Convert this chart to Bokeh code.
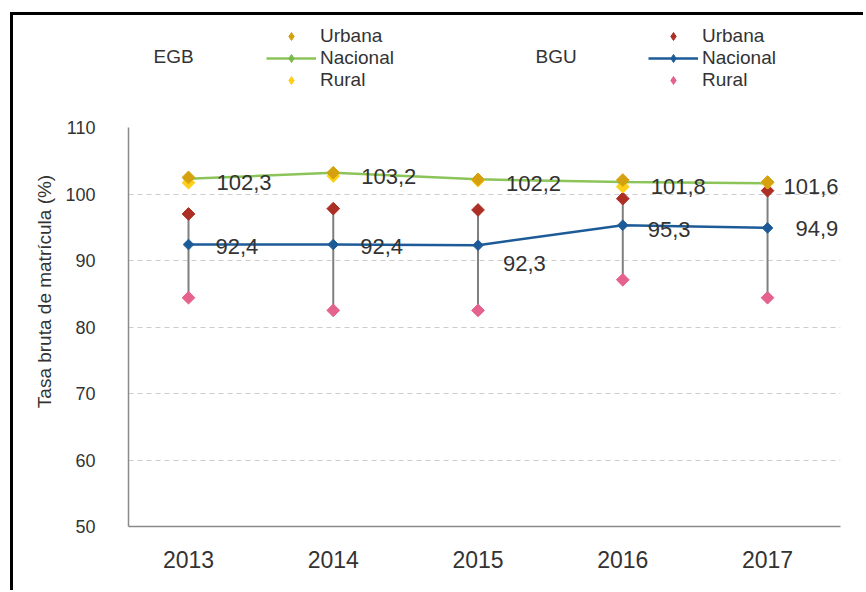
import math
from bokeh.plotting import figure
from bokeh.models import (ColumnDataSource, Range1d, FixedTicker, Legend, LegendItem,
                          Label, LabelSet)
from bokeh.layouts import column, row
from bokeh.core.properties import value
from bokeh.embed import file_html
from bokeh.resources import INLINE

# ---------------- data ----------------
years = [2013, 2014, 2015, 2016, 2017]
egb_nacional = [102.3, 103.2, 102.2, 101.8, 101.6]
egb_urbana = [102.5, 103.2, 102.2, 102.1, 101.8]
egb_rural = [101.7, 102.7, 102.0, 101.1, 101.7]
bgu_nacional = [92.4, 92.4, 92.3, 95.3, 94.9]
bgu_urbana = [97.0, 97.8, 97.6, 99.3, 100.5]
bgu_rural = [84.4, 82.5, 82.5, 87.1, 84.4]
y_ticks = [50, 60, 70, 80, 90, 100, 110]
y_title = "Tasa bruta de matrícula (%)"
group_names = ["EGB", "BGU"]
item_names = ["Urbana", "Nacional", "Rural"]

# label offsets (style)
egb_dx = [28, 28, 28, 28, 16]
egb_dy = [-4, -4, -4, -4, -3]
bgu_dx = [27, 27, 25, 25, 28]
bgu_dy = [-2, -2, -18, -4, -1]

FONT = "Liberation Sans"
TXT = "#333333"
C_GREEN = "#8cc45a"
C_GREEN_M = "#79b84a"
C_GOLD = "#d6a10f"
C_YELLOW = "#fdd017"
C_BLUE = "#1d5b98"
C_RED = "#ad2e25"
C_PINK = "#e4628c"
C_HL = "#7f7f7f"

DIAMOND = dict(marker="square", angle=math.pi / 4)

def fmt(v):
    return f"{v:.1f}".replace(".", ",")

def blank_fig(w, h):
    f = figure(width=w, height=h, x_range=Range1d(0, 1), y_range=Range1d(0, 1),
               output_backend="svg", toolbar_location=None,
               x_axis_location=None, y_axis_location=None,
               min_border_left=0, min_border_right=0,
               min_border_top=0, min_border_bottom=0)
    f.xgrid.grid_line_color = None
    f.ygrid.grid_line_color = None
    f.outline_line_color = None
    f.border_fill_color = "white"
    return f

# ---------------- main chart ----------------
p = figure(width=802, height=478,
           x_range=Range1d(2012.5855, 2017.504), y_range=Range1d(50, 110),
           output_backend="svg", toolbar_location=None,
           min_border_left=67, min_border_right=23,
           min_border_top=15, min_border_bottom=64)
p.outline_line_color = None
p.background_fill_color = "white"
p.border_fill_color = "white"

p.xaxis.ticker = FixedTicker(ticks=years)
p.yaxis.ticker = FixedTicker(ticks=y_ticks)
for ax in (p.xaxis, p.yaxis):
    ax.axis_line_color = "#8a8a8a"
    ax.axis_line_width = 1.5
    ax.major_tick_out = 0
    ax.major_tick_in = 0
    ax.minor_tick_out = 0
    ax.minor_tick_in = 0
    ax.major_label_text_font = FONT
    ax.major_label_text_color = TXT
p.xaxis.major_label_text_font_size = "23px"
p.xaxis.major_label_standoff = 24
p.yaxis.major_label_text_font_size = "18px"
p.yaxis.major_label_standoff = 33
p.xgrid.grid_line_color = None
p.ygrid.grid_line_color = "#cccccc"
p.ygrid.grid_line_dash = "5 4"
p.ygrid.grid_line_width = 1

p.segment(x0=years, y0=bgu_rural, x1=years, y1=bgu_urbana,
          line_color=C_HL, line_width=2)
p.line(years, egb_nacional, line_color=C_GREEN, line_width=2.5)
p.scatter(years, egb_nacional, size=7.5, fill_color=C_GREEN_M,
          line_color=C_GREEN_M, **DIAMOND)
p.line(years, bgu_nacional, line_color=C_BLUE, line_width=2.5)
p.scatter(years, bgu_nacional, size=7.5, fill_color=C_BLUE,
          line_color=C_BLUE, **DIAMOND)
p.scatter(years, bgu_urbana, size=9, fill_color=C_RED, line_color=C_RED, **DIAMOND)
p.scatter(years, bgu_rural, size=9, fill_color=C_PINK, line_color=C_PINK, **DIAMOND)
p.scatter(years, egb_rural, size=9, fill_color=C_YELLOW, line_color=C_YELLOW, **DIAMOND)
p.scatter(years, egb_urbana, size=9, fill_color=C_GOLD, line_color=C_GOLD, **DIAMOND)

src_g = ColumnDataSource(dict(x=years, y=egb_nacional,
                              t=[fmt(v) for v in egb_nacional],
                              dx=egb_dx, dy=egb_dy))
src_b = ColumnDataSource(dict(x=years, y=bgu_nacional,
                              t=[fmt(v) for v in bgu_nacional],
                              dx=bgu_dx, dy=bgu_dy))
for src in (src_g, src_b):
    p.add_layout(LabelSet(x="x", y="y", text="t", source=src,
                          x_offset="dx", y_offset="dy",
                          text_font=value(FONT), text_font_size=value("22px"),
                          text_color=value(TXT), text_align=value("left"),
                          text_baseline=value("middle")))

# ---------------- legend strip (top) ----------------
# legend renderers carry the same series (they fall outside this strip's ranges)
LEG_D = dict(marker="diamond")
pt = blank_fig(850, 97)
e_u = pt.scatter(years, egb_urbana, size=13, fill_color=C_GOLD, line_color=C_GOLD, **LEG_D)
e_nl = pt.line(years, egb_nacional, line_color=C_GREEN, line_width=2.5)
e_nm = pt.scatter(years, egb_nacional, size=11, fill_color=C_GREEN_M,
                  line_color=C_GREEN_M, **LEG_D)
e_r = pt.scatter(years, egb_rural, size=13, fill_color=C_YELLOW, line_color=C_YELLOW, **LEG_D)
b_u = pt.scatter(years, bgu_urbana, size=13, fill_color=C_RED, line_color=C_RED, **LEG_D)
b_nl = pt.line(years, bgu_nacional, line_color=C_BLUE, line_width=2.5)
b_nm = pt.scatter(years, bgu_nacional, size=11, fill_color=C_BLUE,
                  line_color=C_BLUE, **LEG_D)
b_r = pt.scatter(years, bgu_rural, size=13, fill_color=C_PINK, line_color=C_PINK, **LEG_D)

def make_legend(items, x):
    return Legend(items=items, location=(x, 21), orientation="vertical",
                  glyph_width=50, glyph_height=20, label_height=20,
                  label_standoff=4, spacing=0, padding=0, margin=0,
                  border_line_color=None, background_fill_alpha=0,
                  label_text_font=FONT, label_text_font_size="19px",
                  label_text_color=TXT)

pt.add_layout(make_legend([LegendItem(label=item_names[0], renderers=[e_u]),
                           LegendItem(label=item_names[1], renderers=[e_nl, e_nm]),
                           LegendItem(label=item_names[2], renderers=[e_r])], 253),
              "center")
pt.add_layout(make_legend([LegendItem(label=item_names[0], renderers=[b_u]),
                           LegendItem(label=item_names[1], renderers=[b_nl, b_nm]),
                           LegendItem(label=item_names[2], renderers=[b_r])], 635),
              "center")
for name, x in zip(group_names, [140, 522]):
    pt.add_layout(Label(x=x, y=56, x_units="screen", y_units="screen",
                        text=name, text_font=FONT, text_font_size="19px",
                        text_color=TXT, text_baseline="middle"))

# ---------------- axis title strip (left) ----------------
pl = blank_fig(48, 478)
pl.add_layout(Label(x=30.5, y=235, x_units="screen", y_units="screen",
                    text=y_title, angle=math.pi / 2, text_font=FONT,
                    text_font_size="19px", text_color=TXT,
                    text_align="center", text_baseline="middle"))

layout = column(pt, row(pl, p, spacing=0), spacing=0)
layout.styles = {"border-left": "3px solid black", "border-top": "3px solid black",
                 "margin-left": "10px", "margin-top": "12px"}

open("out.html", "w").write(file_html(layout, INLINE))
